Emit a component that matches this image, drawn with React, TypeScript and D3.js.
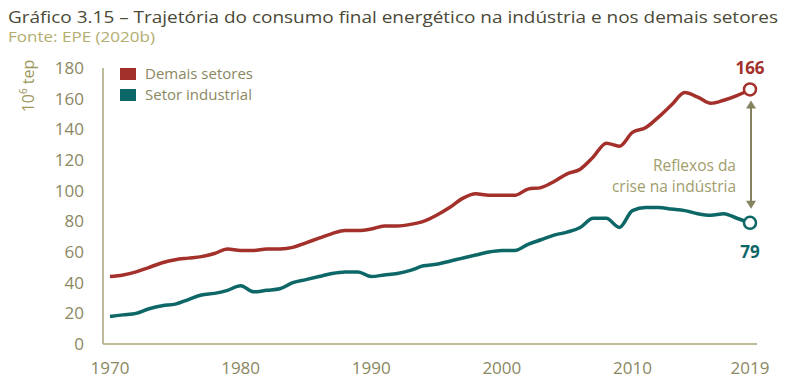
import React, { useRef, useEffect } from "react";
import * as d3 from "d3";

// anos 1970..2019
const years: number[] = d3.range(1970, 2020);

// Demais setores (10^6 tep)
const demais: number[] = [
  44, 45, 47, 50, 53, 55, 56, 57, 59, 62,
  61, 61, 62, 62, 63, 66, 69, 72, 74, 74,
  75, 77, 77, 78, 80, 84, 89, 95, 98, 97,
  97, 97, 101, 102, 106, 111, 114, 122, 131, 129,
  138, 141, 148, 156, 164, 161, 157, 159, 162, 166,
];

// Setor industrial (10^6 tep)
const industrial: number[] = [
  18, 19, 20, 23, 25, 26, 29, 32, 33, 35,
  38, 34, 35, 36, 40, 42, 44, 46, 47, 47,
  44, 45, 46, 48, 51, 52, 54, 56, 58, 60,
  61, 61, 65, 68, 71, 73, 76, 82, 82, 76,
  87, 89, 89, 88, 87, 85, 84, 85, 82, 79,
];

const yTicks = [0, 20, 40, 60, 80, 100, 120, 140, 160, 180];
const xTicks = [1970, 1980, 1990, 2000, 2010, 2019];
const legendItems = [
  { label: "Demais setores", color: "#a3302a" },
  { label: "Setor industrial", color: "#0e6767" },
];
const noteLines = ["Reflexos da", "crise na indústria"];

const W = 800;
const H = 390;
const FONT = "'Open Sans', sans-serif";

const App = () => {
  const svgRef = useRef<SVGSVGElement>(null);

  useEffect(() => {
    const svg = d3.select(svgRef.current);
    svg.selectAll("*").remove();

    const x = d3.scaleLinear().domain([1970, 2019]).range([110, 750]);
    const y = d3.scaleLinear().domain([0, 180]).range([344, 68]);

    // titulo
    svg.append("text")
      .attr("x", 8).attr("y", 23)
      .attr("font-size", 17).attr("fill", "#4a4936")
      .attr("textLength", 770).attr("lengthAdjust", "spacingAndGlyphs")
      .text("Gráfico 3.15 – Trajetória do consumo final energético na indústria e nos demais setores");
    svg.append("text")
      .attr("x", 8).attr("y", 42)
      .attr("font-size", 14.5).attr("fill", "#b3ad6f")
      .attr("textLength", 147).attr("lengthAdjust", "spacingAndGlyphs")
      .text("Fonte: EPE (2020b)");

    // eixos
    const axisColor = "#a8a47a";
    svg.append("line")
      .attr("x1", 103).attr("x2", 103).attr("y1", 68).attr("y2", 344)
      .attr("stroke", axisColor).attr("stroke-width", 1.5);
    svg.append("line")
      .attr("x1", 103).attr("x2", 757).attr("y1", 344).attr("y2", 344)
      .attr("stroke", axisColor).attr("stroke-width", 1.5);

    svg.append("g").selectAll("text")
      .data(yTicks).join("text")
      .attr("x", 84).attr("y", (d) => y(d))
      .attr("dy", "0.35em").attr("text-anchor", "end")
      .attr("font-size", 17).attr("fill", "#8b8762")
      .text((d) => d);

    svg.append("g").selectAll("text")
      .data(xTicks).join("text")
      .attr("x", (d) => x(d)).attr("y", 374)
      .attr("text-anchor", "middle")
      .attr("font-size", 17).attr("fill", "#8b8762")
      .text((d) => d);

    // rotulo do eixo y
    const yl = svg.append("text")
      .attr("transform", "translate(34,86) rotate(-90)")
      .attr("text-anchor", "middle")
      .attr("font-size", 16).attr("fill", "#9e985e");
    yl.append("tspan").text("10");
    yl.append("tspan").attr("font-size", 10).attr("dy", -7).text("6");
    yl.append("tspan").attr("dy", 7).text(" tep");

    // linhas
    const mkLine = d3.line<number>()
      .x((d, i) => x(years[i]))
      .y((d) => y(d))
      .curve(d3.curveMonotoneX);

    svg.append("path").datum(demais)
      .attr("d", mkLine).attr("fill", "none")
      .attr("stroke", legendItems[0].color).attr("stroke-width", 3.5)
      .attr("stroke-linejoin", "round");
    svg.append("path").datum(industrial)
      .attr("d", mkLine).attr("fill", "none")
      .attr("stroke", legendItems[1].color).attr("stroke-width", 3.5)
      .attr("stroke-linejoin", "round");

    // marcadores finais
    const last = years.length - 1;
    [
      { v: demais[last], c: legendItems[0].color, dy: -21 },
      { v: industrial[last], c: legendItems[1].color, dy: 29 },
    ].forEach((m) => {
      svg.append("circle")
        .attr("cx", x(2019)).attr("cy", y(m.v)).attr("r", 6)
        .attr("fill", "#fff").attr("stroke", m.c).attr("stroke-width", 2.5);
      svg.append("text")
        .attr("x", x(2019)).attr("y", y(m.v) + m.dy)
        .attr("dy", "0.35em").attr("text-anchor", "middle")
        .attr("font-size", 17).attr("font-weight", "bold").attr("fill", m.c)
        .text(m.v);
    });

    // seta dupla
    const arrowColor = "#85825f";
    const ax = x(2019) + 1;
    const aTop = y(demais[last]) + 11;
    const aBot = y(industrial[last]) - 14;
    svg.append("line")
      .attr("x1", ax).attr("x2", ax).attr("y1", aTop + 6).attr("y2", aBot - 6)
      .attr("stroke", arrowColor).attr("stroke-width", 2);
    svg.append("path")
      .attr("d", `M${ax - 5},${aTop + 8}L${ax},${aTop}L${ax + 5},${aTop + 8}Z`)
      .attr("fill", arrowColor);
    svg.append("path")
      .attr("d", `M${ax - 5},${aBot - 8}L${ax},${aBot}L${ax + 5},${aBot - 8}Z`)
      .attr("fill", arrowColor);

    svg.append("g").selectAll("text")
      .data(noteLines).join("text")
      .attr("x", 736).attr("y", (d, i) => 166 + i * 21).attr("dy", "0.35em")
      .attr("text-anchor", "end").attr("font-size", 15.5).attr("fill", "#a29d6c")
      .text((d) => d);

    // legenda
    const lg = svg.append("g").selectAll("g")
      .data(legendItems).join("g")
      .attr("transform", (d, i) => `translate(120,${68 + i * 21})`);
    lg.append("rect").attr("width", 16).attr("height", 12).attr("fill", (d) => d.color);
    lg.append("text")
      .attr("x", 25).attr("y", 6).attr("dy", "0.35em")
      .attr("font-size", 15).attr("fill", "#8b8762")
      .text((d) => d.label);
  }, []);

  return (
    <svg
      ref={svgRef}
      width={W}
      height={H}
      style={{ position: "absolute", left: 0, top: 0, fontFamily: FONT, background: "#fff" }}
    />
  );
};

export default App;
